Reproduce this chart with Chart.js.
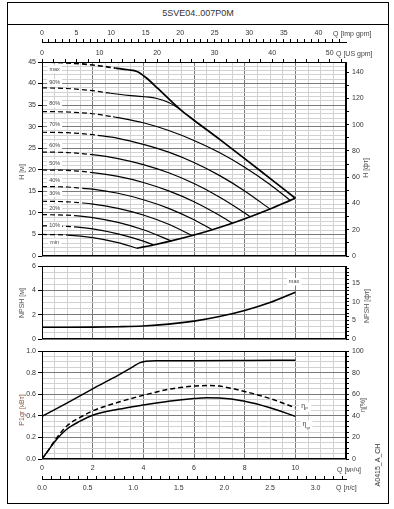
<!DOCTYPE html>
<html>
<head>
<meta charset="utf-8">
<script src="https://cdn.jsdelivr.net/npm/chart.js@4.4.0/dist/chart.umd.min.js"></script>
<style>
body { margin: 0; background: #fff; font-family: 'Liberation Sans', Arial, sans-serif; }
#wrap { position: relative; width: 394px; height: 509px; overflow: hidden; }
#frame { position: absolute; left: 7px; top: 2px; width: 382px; height: 502px; border: 1px solid #000; box-sizing: border-box; }
#title { position: absolute; left: 7px; top: 2px; width: 382px; height: 23px; border-bottom: 1px solid #000; box-sizing: border-box;
         text-align: center; line-height: 22px; font-size: 9px; color: #333; }
canvas { position: absolute; left: 0; top: 0; }
.t { position: absolute; font-size: 7px; color: #444; white-space: nowrap; transform: translateY(-50%); }
.v { position: absolute; font-size: 7px; color: #555; white-space: nowrap; transform: translate(-50%, -50%) rotate(-90deg); }
</style>
</head>
<body>
<div id="wrap">
  <div id="frame"></div>
  <div id="title">5SVE04..007P0M</div>
  <canvas id="cH" width="394" height="509"></canvas>
  <canvas id="cN" width="394" height="509"></canvas>
  <canvas id="cP" width="394" height="509"></canvas>

  <div class="t" style="left:333px;top:33px">Q [Imp gpm]</div>
  <div class="t" style="left:336px;top:53px">Q [US gpm]</div>
  <div class="v" style="left:21px;top:172px">H [м]</div>
  <div class="v" style="left:365px;top:168px">H [фт]</div>
  <div class="v" style="left:21px;top:303px">NPSH [м]</div>
  <div class="v" style="left:366px;top:306px">NPSH [фт]</div>
  <div class="v" style="left:21px;top:410px;color:#8a5a44">P1gr [кВт]</div>
  <div class="v" style="left:362px;top:405px">η[%]</div>
  <div class="t" style="left:337px;top:469px">Q [м³/ч]</div>
  <div class="t" style="left:336px;top:487px">Q [л/с]</div>
  <div class="v" style="left:377px;top:465px;color:#333">A0415_A_CH</div>
</div>

<script>
// Q [m3/h] -> H [m], speed curves
const hMax = [[0,45],[1,44.8],[2,44.3],[2.9,43.6],[3.4,43.2],[3.75,42.8],[4.1,41.4],[4.55,39.0],[5.45,34.0],[6,31.5],[7,27.1],[8,22.6],[9,18.0],[10,13.4]];
const h90 = [[0,39.0],[1,38.85],[2,38.35],[2.7,37.75],[3.5,37.2],[4.5,36.6],[5,35.6],[5.45,34.1]];
const h80 = [[0,33.5],[1,33.4],[2,33.0],[2.8,32.3],[3,32.1],[4,30.9],[5,29.1],[6,26.8],[7,24.0],[8,20.6],[9,16.6],[9.8,12.9]];
const h70 = [[0,28.7],[1,28.6],[2,28.15],[2.2,28.0],[3,27.3],[4,25.9],[5,24.1],[6,21.7],[7,18.7],[8,15.1],[9,10.9]];
const h60 = [[0,24.1],[1,24.0],[2,23.5],[3,22.6],[4,21.2],[5,19.3],[6,16.8],[7,13.7],[8,10.0],[8.22,9.1]];
const h50 = [[0,19.95],[1,19.85],[2,19.35],[3,18.45],[4,17.05],[5,15.1],[6,12.6],[7,9.45],[7.51,7.6]];
const h40 = [[0,16.1],[1,16.0],[1.6,15.7],[2,15.5],[3,14.55],[4,13.05],[5,11.05],[6,8.4],[6.72,6.1]];
const h30 = [[0,12.7],[1,12.57],[1.6,12.3],[2,12.05],[3,11.05],[4,9.5],[5,7.35],[5.93,4.75]];
const h20 = [[0,9.6],[1,9.46],[1.3,9.35],[2,8.9],[3,7.8],[4,6.1],[5,3.75],[5.1,3.5]];
const h10 = [[0,7.0],[1,6.85],[1.3,6.75],[2,6.3],[3,5.15],[4,3.45],[4.4,2.56]];
const hMin = [[0,5.0],[1,4.85],[2,4.25],[3,3.1],[3.75,1.8]];
const hLimit = [[3.75,1.8],[4.4,2.56],[5.1,3.5],[5.93,4.75],[6.72,6.1],[7.51,7.6],[8.22,9.1],[9.0,10.9],[9.8,12.9],[10,13.4]];

const speedTags = ['max','90%','80%','70%','60%','50%','40%','30%','20%','10%','min'];
const minFlowQ = [2.9, 2.7, 2.8, 2.2, 2.0, 2.0, 1.6, 1.6, 1.3, 1.3, 1.0];

// NPSH [m]
const npsh = [[0,0.97],[1,0.97],[2,0.98],[3,1.01],[4,1.07],[5,1.22],[6,1.47],[7,1.85],[8,2.35],[9,3.0],[10,3.85]];

// P1gr [kW] and efficiencies [%]
const p1gr = [[0,0.395],[1,0.52],[2,0.65],[3,0.775],[3.6,0.855],[3.85,0.89],[4.1,0.905],[4.5,0.91],[6,0.91],[8,0.912],[10,0.915]];
const etaP = [[0,0],[0.25,8],[0.5,17],[1,31],[1.5,38.5],[2,44.5],[3,52.5],[4,59],[5,64.5],[6,67.5],[6.5,68],[7,67.5],[8,62.5],[9,56],[10,47.5]];
const etaGr = [[0,0],[0.25,8],[0.5,16],[1,28],[1.5,35],[2,40.5],[3,46],[4,50],[5,53.5],[6,56],[6.5,56.7],[7,56.5],[8,53.5],[9,47.5],[10,39.5]];

const qMax = 12;
const M_TO_FT = 3.28084, IMP_GPM = 3.6662, US_GPM = 4.4029;

Chart.defaults.font.family = "'Liberation Sans', Arial, sans-serif";
Chart.defaults.font.size = 7;
Chart.defaults.color = '#333';
Chart.defaults.animation = false;

const MAJOR = '#7a7a7a', MINOR = '#d2d2d2';
const near = (v, s) => Math.abs(v / s - Math.round(v / s)) < 1e-6;

function qAxis(labels) {
  return {
    type: 'linear', position: 'bottom', min: 0, max: qMax,
    ticks: { stepSize: 0.5, maxTicksLimit: 1000, autoSkip: false, maxRotation: 0, padding: 5, display: labels,
             callback: v => (labels && near(v, 2) && v < qMax) ? String(v) : '' },
    grid: { color: c => near(c.tick.value, 2) ? MAJOR : MINOR, drawTicks: false },
    border: { display: false },
    afterFit: s => { s.height = labels ? 20 : 0; }
  };
}
function leftAxis(max, step, major, fmt) {
  return {
    type: 'linear', position: 'left', min: 0, max: max,
    ticks: { stepSize: step, maxTicksLimit: 1000, autoSkip: false, padding: 2,
             callback: v => near(v, major) ? fmt(v) : '' },
    grid: { color: c => near(c.tick.value, major) ? MAJOR : MINOR, tickLength: 4,
            tickColor: c => near(c.tick.value, major) ? '#000' : 'rgba(0,0,0,0)' },
    border: { display: false },
    afterFit: s => { s.width = 42; }
  };
}
function rightAxis(max, step, major) {
  return {
    type: 'linear', position: 'right', min: 0, max: max,
    ticks: { stepSize: step, maxTicksLimit: 1000, autoSkip: false, includeBounds: false, padding: 3,
             callback: v => near(v, major) ? String(Math.round(v)) : '' },
    grid: { drawOnChartArea: false, tickLength: 3, tickColor: '#000' },
    border: { display: true, color: '#000' },
    afterFit: s => { s.width = 48; }
  };
}
function topAxis(max, step, major, weight, h) {
  return {
    type: 'linear', position: 'top', min: 0, max: max, weight: weight,
    ticks: { stepSize: step, maxTicksLimit: 1000, autoSkip: false, includeBounds: false, padding: 2, maxRotation: 0,
             callback: v => near(v, major) ? String(Math.round(v)) : '' },
    grid: { drawOnChartArea: false, tickLength: 3, tickColor: '#000' },
    border: { display: true, color: '#000' },
    afterFit: s => { s.height = h; }
  };
}
const line = (data, w, extra) => Object.assign({
  data: data, borderColor: '#000', borderWidth: w, pointRadius: 0, fill: false,
  cubicInterpolationMode: 'monotone', xAxisID: 'x', yAxisID: 'y'
}, extra || {});

const framePlugin = {
  id: 'frame',
  afterDraw(chart) {
    const a = chart.chartArea, ctx = chart.ctx;
    ctx.save();
    ctx.strokeStyle = '#000'; ctx.lineWidth = 1;
    ctx.strokeRect(Math.round(a.left) + 0.5, Math.round(a.top) + 0.5, Math.round(a.right - a.left) - 1, Math.round(a.bottom - a.top) - 1);
    ctx.restore();
  }
};
function tag(ctx, text, x, y, size) {
  ctx.font = size + "px 'Liberation Sans', Arial, sans-serif";
  const w = ctx.measureText(text).width;
  ctx.fillStyle = '#fff';
  ctx.fillRect(x - w / 2 - 2, y - size / 2 - 1, w + 4, size + 2);
  ctx.fillStyle = '#444';
  ctx.textAlign = 'center'; ctx.textBaseline = 'middle';
  ctx.fillText(text, x, y);
}

function pin(chart, top, bottom) {
  const p = chart.config.options.layout.padding;
  const a = chart.chartArea;
  p.top += top - a.top;
  p.bottom += a.bottom - bottom;
  p.left += 42 - a.left;
  p.right += a.right - 346;
  chart.update('none');
}

// ---- H chart
const speedCurves = [hMax, h90, h80, h70, h60, h50, h40, h30, h20, h10, hMin];
const hSets = speedCurves.map((d, i) => line(d, i === 0 ? 1.7 : 1.2, {
  segment: { borderDash: c => c.p1.parsed.x <= minFlowQ[i] + 1e-6 ? [5, 3] : [] }
}));
hSets.push(line(hLimit, 1.7));

// pixel shift of each speed tag from the start of its curve
const tagOffset = [7.5, -5, -8, -7.5, -7, -7, -6.5, -8, -6.5, 0, 8];
const hTags = {
  id: 'hTags',
  afterDatasetsDraw(chart) {
    const ctx = chart.ctx, xs = chart.scales.x, ys = chart.scales.y;
    ctx.save();
    speedCurves.forEach((d, i) => {
      tag(ctx, speedTags[i], xs.getPixelForValue(0.5), ys.getPixelForValue(d[0][1]) + tagOffset[i], 5.5);
    });
    ctx.restore();
  }
};

const chH = new Chart(document.getElementById('cH'), {
  type: 'line',
  data: { datasets: hSets },
  options: {
    responsive: false, devicePixelRatio: 1,
    layout: { padding: { top: 24, bottom: 253, left: 0, right: 0 } },
    plugins: { legend: { display: false }, tooltip: { enabled: false } },
    scales: {
      x: qAxis(false),
      us: topAxis(qMax * US_GPM, 2, 10, 0, 20),
      imp: topAxis(qMax * IMP_GPM, 1, 5, 1, 18),
      y: leftAxis(45, 1, 5, v => String(v)),
      yft: rightAxis(45 * M_TO_FT, 10, 20)
    }
  },
  plugins: [framePlugin, hTags]
});
pin(chH, 62, 256);

// ---- NPSH chart
const nTags = {
  id: 'nTags',
  afterDatasetsDraw(chart) {
    const ctx = chart.ctx;
    ctx.save();
    tag(ctx, 'max', chart.scales.x.getPixelForValue(9.95), chart.scales.y.getPixelForValue(4.7), 5.5);
    ctx.restore();
  }
};
const chN = new Chart(document.getElementById('cN'), {
  type: 'line',
  data: { datasets: [line(npsh, 1.6)] },
  options: {
    responsive: false, devicePixelRatio: 1,
    layout: { padding: { top: 266, bottom: 170, left: 0, right: 0 } },
    plugins: { legend: { display: false }, tooltip: { enabled: false } },
    scales: {
      x: qAxis(false),
      y: leftAxis(6, 0.5, 2, v => String(v)),
      yft: rightAxis(6 * M_TO_FT, 1, 5)
    }
  },
  plugins: [framePlugin, nTags]
});
pin(chN, 266, 339);

// ---- Power / efficiency chart
const pTags = {
  id: 'pTags',
  afterDatasetsDraw(chart) {
    const ctx = chart.ctx, xs = chart.scales.x, ye = chart.scales.eta;
    ctx.save();
    [['P', 10.35, 48], ['gr', 10.4, 31]].forEach(t => {
      const x = xs.getPixelForValue(t[1]), y = ye.getPixelForValue(t[2]);
      ctx.fillStyle = '#fff';
      ctx.fillRect(x - 5, y - 5, 12, 10);
      ctx.fillStyle = '#444';
      ctx.textAlign = 'left'; ctx.textBaseline = 'middle';
      ctx.font = "7px 'Liberation Sans', Arial, sans-serif";
      ctx.fillText('η', x - 3, y - 1);
      ctx.font = "4px 'Liberation Sans', Arial, sans-serif";
      ctx.fillText(t[0], x + 1, y + 2);
    });
    ctx.restore();
  }
};
const lsAxis = {
  type: 'linear', position: 'bottom', min: 0, max: qMax / 3.6,
  ticks: { stepSize: 0.1, maxTicksLimit: 1000, autoSkip: false, includeBounds: false, padding: 8, maxRotation: 0,
           callback: v => near(v, 0.5) ? v.toFixed(1) : '' },
  grid: { drawOnChartArea: false, tickLength: -3, tickColor: '#000' },
  border: { display: true, color: '#000' },
  afterFit: s => { s.height = 16; }
};
const chP = new Chart(document.getElementById('cP'), {
  type: 'line',
  data: {
    datasets: [
      line(p1gr, 1.5),
      line(etaP, 1.5, { yAxisID: 'eta', borderDash: [5, 3] }),
      line(etaGr, 1.5, { yAxisID: 'eta' })
    ]
  },
  options: {
    responsive: false, devicePixelRatio: 1,
    layout: { padding: { top: 351, bottom: 14, left: 0, right: 0 } },
    plugins: { legend: { display: false }, tooltip: { enabled: false } },
    scales: {
      x: qAxis(true),
      ls: lsAxis,
      y: leftAxis(1, 0.05, 0.2, v => v.toFixed(1)),
      eta: rightAxis(100, 5, 20)
    }
  },
  plugins: [framePlugin, pTags]
});
pin(chP, 351, 459);
</script>
</body>
</html>
